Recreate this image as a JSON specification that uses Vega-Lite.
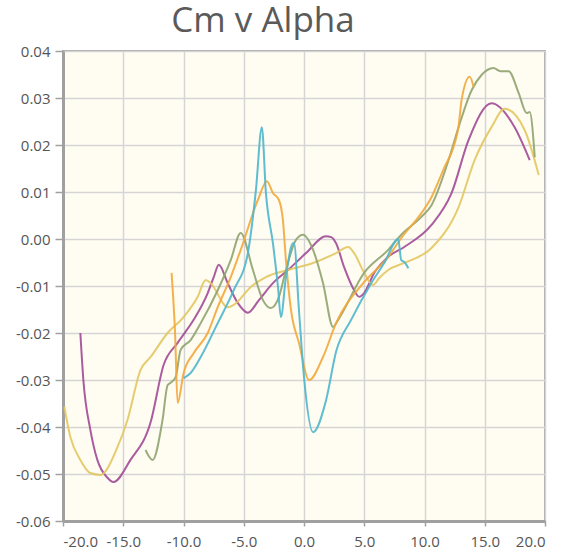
{
  "$schema": "https://vega.github.io/schema/vega-lite/v6.json",
  "width": 482,
  "height": 470,
  "autosize": {"type": "none"},
  "padding": {"left": 63, "top": 51, "right": 19, "bottom": 36},
  "background": "#ffffff",
  "title": {"text": "Cm v Alpha", "fontSize": 35, "font": "Open Sans", "fontWeight": "normal", "color": "#5a5a5a", "anchor": "middle", "frame": "group", "dx": -41, "offset": -30, "baseline": "bottom"},
  "config": {
    "view": {"fill": "#fffcf2", "stroke": "#a9a9a9", "strokeWidth": 2},
    "axis": {"domainColor": "#a0a0a0", "domainWidth": 3, "tickColor": "#a0a0a0", "tickWidth": 1.5, "gridColor": "#d5d5d5", "gridWidth": 1.5, "labelFont": "Open Sans", "labelFontSize": 15, "labelColor": "#555555", "title": null}
  },
  "data": {"values": [
    {"s":"purple","a":-18.56,"cm":-0.0200},{"s":"purple","a":-18.31,"cm":-0.0300},{"s":"purple","a":-17.73,"cm":-0.0406},{"s":"purple","a":-17.15,"cm":-0.0470},{"s":"purple","a":-16.31,"cm":-0.0508},{"s":"purple","a":-15.81,"cm":-0.0517},{"s":"purple","a":-14.40,"cm":-0.0470},{"s":"purple","a":-12.73,"cm":-0.0390},{"s":"purple","a":-11.65,"cm":-0.0268},{"s":"purple","a":-10.49,"cm":-0.0221},{"s":"purple","a":-9.16,"cm":-0.0172},{"s":"purple","a":-7.99,"cm":-0.0115},{"s":"purple","a":-7.49,"cm":-0.0081},{"s":"purple","a":-7.07,"cm":-0.0055},{"s":"purple","a":-6.33,"cm":-0.0094},{"s":"purple","a":-5.50,"cm":-0.0136},{"s":"purple","a":-4.66,"cm":-0.0157},{"s":"purple","a":-3.74,"cm":-0.0130},{"s":"purple","a":-2.58,"cm":-0.0094},{"s":"purple","a":-1.33,"cm":-0.0066},{"s":"purple","a":0.17,"cm":-0.0030},{"s":"purple","a":1.83,"cm":0.0006},{"s":"purple","a":2.25,"cm":0.0004},{"s":"purple","a":2.66,"cm":-0.0009},{"s":"purple","a":3.33,"cm":-0.0060},{"s":"purple","a":4.16,"cm":-0.0109},{"s":"purple","a":4.58,"cm":-0.0123},{"s":"purple","a":4.99,"cm":-0.0115},{"s":"purple","a":5.83,"cm":-0.0072},{"s":"purple","a":6.99,"cm":-0.0038},{"s":"purple","a":8.32,"cm":-0.0017},{"s":"purple","a":10.58,"cm":0.0030},{"s":"purple","a":12.25,"cm":0.0098},{"s":"purple","a":13.66,"cm":0.0211},{"s":"purple","a":15.56,"cm":0.0289},{"s":"purple","a":17.48,"cm":0.0238},{"s":"purple","a":18.73,"cm":0.0168},
    {"s":"gold","a":-19.89,"cm":-0.0357},{"s":"gold","a":-19.39,"cm":-0.0421},{"s":"gold","a":-18.56,"cm":-0.0470},{"s":"gold","a":-17.73,"cm":-0.0498},{"s":"gold","a":-16.90,"cm":-0.0502},{"s":"gold","a":-15.48,"cm":-0.0443},{"s":"gold","a":-14.65,"cm":-0.0385},{"s":"gold","a":-13.57,"cm":-0.0279},{"s":"gold","a":-12.73,"cm":-0.0251},{"s":"gold","a":-11.32,"cm":-0.0200},{"s":"gold","a":-9.99,"cm":-0.0166},{"s":"gold","a":-8.82,"cm":-0.0123},{"s":"gold","a":-8.16,"cm":-0.0087},{"s":"gold","a":-7.74,"cm":-0.0094},{"s":"gold","a":-6.33,"cm":-0.0145},{"s":"gold","a":-5.83,"cm":-0.0140},{"s":"gold","a":-4.41,"cm":-0.0102},{"s":"gold","a":-3.16,"cm":-0.0081},{"s":"gold","a":-1.33,"cm":-0.0066},{"s":"gold","a":0.75,"cm":-0.0051},{"s":"gold","a":2.66,"cm":-0.0030},{"s":"gold","a":3.66,"cm":-0.0017},{"s":"gold","a":4.16,"cm":-0.0030},{"s":"gold","a":4.99,"cm":-0.0072},{"s":"gold","a":5.74,"cm":-0.0098},{"s":"gold","a":6.24,"cm":-0.0083},{"s":"gold","a":6.99,"cm":-0.0066},{"s":"gold","a":8.32,"cm":-0.0051},{"s":"gold","a":10.58,"cm":-0.0019},{"s":"gold","a":12.83,"cm":0.0068},{"s":"gold","a":14.16,"cm":0.0168},{"s":"gold","a":15.56,"cm":0.0238},{"s":"gold","a":16.65,"cm":0.0277},{"s":"gold","a":18.31,"cm":0.0232},{"s":"gold","a":19.48,"cm":0.0136},
    {"s":"olive","a":-13.15,"cm":-0.0449},{"s":"olive","a":-12.57,"cm":-0.0470},{"s":"olive","a":-11.74,"cm":-0.0385},{"s":"olive","a":-11.32,"cm":-0.0311},{"s":"olive","a":-11.07,"cm":-0.0306},{"s":"olive","a":-10.65,"cm":-0.0294},{"s":"olive","a":-10.24,"cm":-0.0236},{"s":"olive","a":-9.41,"cm":-0.0215},{"s":"olive","a":-8.57,"cm":-0.0179},{"s":"olive","a":-7.16,"cm":-0.0109},{"s":"olive","a":-6.08,"cm":-0.0045},{"s":"olive","a":-5.25,"cm":0.0013},{"s":"olive","a":-4.24,"cm":-0.0066},{"s":"olive","a":-3.41,"cm":-0.0130},{"s":"olive","a":-2.75,"cm":-0.0147},{"s":"olive","a":-2.08,"cm":-0.0123},{"s":"olive","a":-1.50,"cm":-0.0066},{"s":"olive","a":-0.67,"cm":-0.0002},{"s":"olive","a":-0.08,"cm":0.0009},{"s":"olive","a":0.75,"cm":-0.0023},{"s":"olive","a":1.58,"cm":-0.0094},{"s":"olive","a":2.41,"cm":-0.0187},{"s":"olive","a":2.83,"cm":-0.0172},{"s":"olive","a":4.99,"cm":-0.0072},{"s":"olive","a":6.99,"cm":-0.0023},{"s":"olive","a":8.07,"cm":0.0009},{"s":"olive","a":9.74,"cm":0.0047},{"s":"olive","a":10.58,"cm":0.0072},{"s":"olive","a":12.00,"cm":0.0168},{"s":"olive","a":12.83,"cm":0.0238},{"s":"olive","a":13.92,"cm":0.0317},{"s":"olive","a":14.73,"cm":0.0349},{"s":"olive","a":15.73,"cm":0.0364},{"s":"olive","a":16.30,"cm":0.0357},{"s":"olive","a":16.98,"cm":0.0357},{"s":"olive","a":17.81,"cm":0.0311},{"s":"olive","a":18.48,"cm":0.0268},{"s":"olive","a":18.73,"cm":0.0270},{"s":"olive","a":19.15,"cm":0.0174},
    {"s":"orange","a":-10.99,"cm":-0.0072},{"s":"orange","a":-10.70,"cm":-0.0200},{"s":"orange","a":-10.49,"cm":-0.0349},{"s":"orange","a":-9.99,"cm":-0.0285},{"s":"orange","a":-9.16,"cm":-0.0243},{"s":"orange","a":-7.99,"cm":-0.0200},{"s":"orange","a":-7.16,"cm":-0.0145},{"s":"orange","a":-6.08,"cm":-0.0081},{"s":"orange","a":-5.25,"cm":-0.0023},{"s":"orange","a":-3.83,"cm":0.0083},{"s":"orange","a":-3.08,"cm":0.0123},{"s":"orange","a":-2.58,"cm":0.0098},{"s":"orange","a":-2.08,"cm":0.0083},{"s":"orange","a":-1.75,"cm":0.0040},{"s":"orange","a":-1.50,"cm":-0.0045},{"s":"orange","a":-1.08,"cm":-0.0151},{"s":"orange","a":-0.42,"cm":-0.0221},{"s":"orange","a":0.42,"cm":-0.0300},{"s":"orange","a":1.58,"cm":-0.0251},{"s":"orange","a":2.66,"cm":-0.0179},{"s":"orange","a":4.91,"cm":-0.0094},{"s":"orange","a":6.99,"cm":-0.0038},{"s":"orange","a":8.07,"cm":0.0002},{"s":"orange","a":9.74,"cm":0.0055},{"s":"orange","a":10.58,"cm":0.0089},{"s":"orange","a":11.66,"cm":0.0153},{"s":"orange","a":12.41,"cm":0.0196},{"s":"orange","a":12.83,"cm":0.0240},{"s":"orange","a":13.08,"cm":0.0296},{"s":"orange","a":13.75,"cm":0.0345},{"s":"orange","a":14.08,"cm":0.0323},
    {"s":"cyan","a":-9.99,"cm":-0.0296},{"s":"cyan","a":-9.41,"cm":-0.0285},{"s":"cyan","a":-8.57,"cm":-0.0251},{"s":"cyan","a":-7.16,"cm":-0.0179},{"s":"cyan","a":-5.83,"cm":-0.0109},{"s":"cyan","a":-4.66,"cm":-0.0030},{"s":"cyan","a":-3.99,"cm":0.0104},{"s":"cyan","a":-3.50,"cm":0.0238},{"s":"cyan","a":-3.16,"cm":0.0098},{"s":"cyan","a":-2.58,"cm":-0.0009},{"s":"cyan","a":-2.16,"cm":-0.0102},{"s":"cyan","a":-1.92,"cm":-0.0166},{"s":"cyan","a":-1.50,"cm":-0.0081},{"s":"cyan","a":-0.91,"cm":-0.0009},{"s":"cyan","a":-0.83,"cm":-0.0009},{"s":"cyan","a":-0.42,"cm":-0.0151},{"s":"cyan","a":0.00,"cm":-0.0294},{"s":"cyan","a":0.75,"cm":-0.0411},{"s":"cyan","a":1.83,"cm":-0.0343},{"s":"cyan","a":2.66,"cm":-0.0240},{"s":"cyan","a":3.91,"cm":-0.0172},{"s":"cyan","a":5.58,"cm":-0.0094},{"s":"cyan","a":6.66,"cm":-0.0051},{"s":"cyan","a":7.82,"cm":0.0000},{"s":"cyan","a":8.07,"cm":-0.0045},{"s":"cyan","a":8.32,"cm":-0.0049},{"s":"cyan","a":8.66,"cm":-0.0062}
  ]},
  "mark": {"type": "line", "interpolate": "monotone", "strokeWidth": 2, "opacity": 0.9},
  "encoding": {
    "x": {"field": "a", "type": "quantitative", "scale": {"domain": [-20, 20], "nice": false, "zero": false},
      "axis": {"values": [-20, -15, -10, -5, 0, 5, 10, 15, 20], "labelExpr": "(datum.value < 0 ? '-' : '') + format(abs(datum.value), '.1f')", "tickSize": 5, "labelPadding": 8}},
    "y": {"field": "cm", "type": "quantitative", "scale": {"domain": [-0.06, 0.04], "nice": false, "zero": false},
      "axis": {"values": [-0.06, -0.05, -0.04, -0.03, -0.02, -0.01, 0, 0.01, 0.02, 0.03, 0.04], "labelExpr": "(datum.value < -0.0000001 ? '-' : '') + format(abs(datum.value), '.2f')", "tickSize": 8, "labelPadding": 5}},
    "color": {"field": "s", "type": "nominal", "legend": null,
      "scale": {"domain": ["olive", "purple", "gold", "cyan", "orange"], "range": ["#8fa36e", "#a04a95", "#e2c660", "#4db6cc", "#f2a93b"]}}
  }
}
